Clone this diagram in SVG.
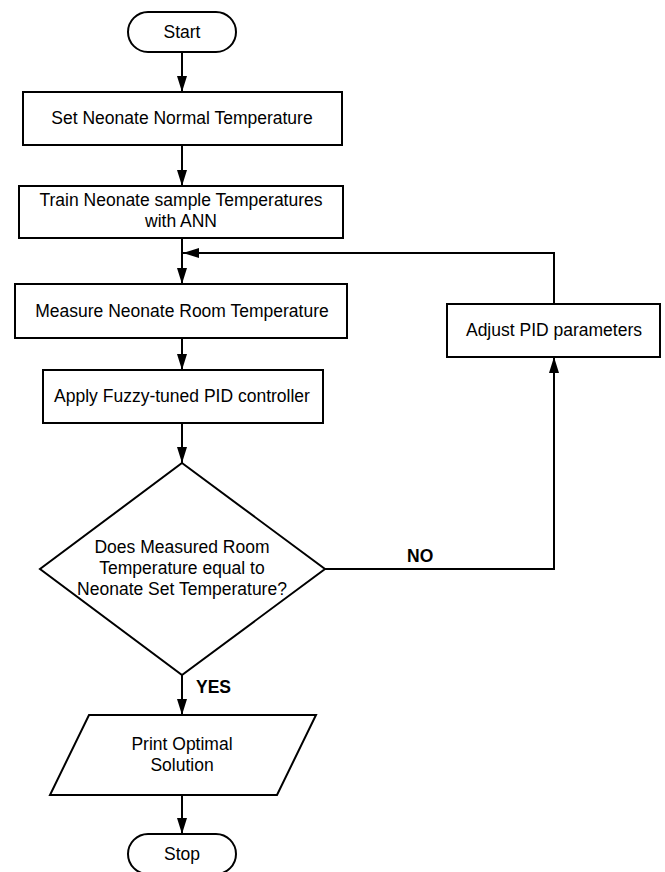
<svg xmlns="http://www.w3.org/2000/svg" width="665" height="872" viewBox="0 0 665 872">
<style>
.shape{fill:#fff;stroke:#000;stroke-width:2}
.t{font-family:"Liberation Sans",Arial,sans-serif;font-size:17.5px;fill:#000;text-anchor:middle}
.b{font-family:"Liberation Sans",Arial,sans-serif;font-size:17.5px;font-weight:bold;fill:#000}
.c{fill:none;stroke:#000;stroke-width:2;marker-end:url(#ah)}
</style>
<defs>
<marker id="ah" markerUnits="userSpaceOnUse" markerWidth="16" markerHeight="10" refX="16" refY="5" orient="auto">
<path d="M0,0 L16,5 L0,10 z" fill="#000"/>
</marker>
</defs>
<rect width="665" height="872" fill="#fff"/>
<g id="connectors">
<path class="c" d="M182,52 V92"/>
<path class="c" d="M182,145 V186"/>
<path class="c" d="M182,238 V284"/>
<path class="c" d="M182,338 V370"/>
<path class="c" d="M182,423 V463"/>
<path class="c" d="M182,675 V715"/>
<path class="c" d="M182,795 V834"/>
<path class="c" d="M325,569 H554 V357"/>
<path class="c" d="M554,304 V253 H183"/>
<text class="b" x="407" y="562">NO</text>
<text class="b" x="196" y="693">YES</text>
</g>
<g id="start">
<rect class="shape" x="128" y="12" width="108" height="40" rx="20" ry="20"/>
<text class="t" x="182" y="38">Start</text>
</g>
<g id="set">
<rect class="shape" x="23" y="92" width="319" height="53"/>
<text class="t" x="182" y="124">Set Neonate Normal Temperature</text>
</g>
<g id="train">
<rect class="shape" x="19" y="186" width="324" height="52"/>
<text class="t" x="181" y="206">Train Neonate sample Temperatures</text>
<text class="t" x="181" y="227">with ANN</text>
</g>
<g id="measure">
<rect class="shape" x="15" y="284" width="332" height="54"/>
<text class="t" x="182" y="317">Measure Neonate Room Temperature</text>
</g>
<g id="apply">
<rect class="shape" x="43" y="370" width="280" height="53"/>
<text class="t" x="182" y="402">Apply Fuzzy-tuned PID controller</text>
</g>
<g id="decision">
<polygon class="shape" points="182,463 325,569 182,675 40,569"/>
<text class="t" x="182" y="553">Does Measured Room</text>
<text class="t" x="182" y="574">Temperature equal to</text>
<text class="t" x="182" y="595">Neonate Set Temperature?</text>
</g>
<g id="adjust">
<rect class="shape" x="447" y="304" width="213" height="53"/>
<text class="t" x="554" y="336">Adjust PID parameters</text>
</g>
<g id="print">
<polygon class="shape" points="89,715 316,715 277,795 50,795"/>
<text class="t" x="182" y="750">Print Optimal</text>
<text class="t" x="182" y="771">Solution</text>
</g>
<g id="stop">
<rect class="shape" x="128" y="834" width="108" height="40" rx="20" ry="20"/>
<text class="t" x="182" y="860">Stop</text>
</g>
</svg>
